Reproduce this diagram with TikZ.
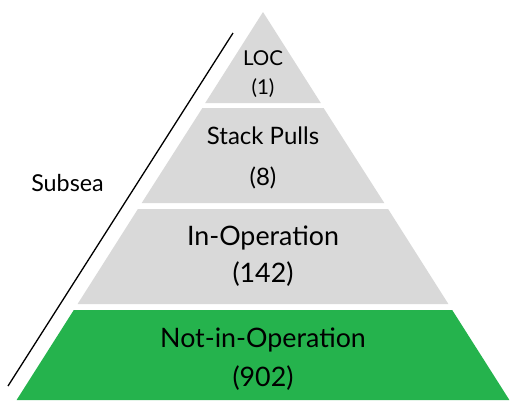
\documentclass[tikz,border=0pt]{standalone}
\usepackage{fontspec}
\setmainfont{Lato}
\definecolor{bandgrey}{RGB}{217,217,217}
\definecolor{bandgreen}{RGB}{37,179,77}
\tikzset{
  band/.style={fill=bandgrey},
  greenband/.style={fill=bandgreen},
  lbl/.style={inner sep=0pt, anchor=base, text=black},
}
\begin{document}
\begin{tikzpicture}[x=1pt,y=-1pt]
\useasboundingbox (0,0) rectangle (511,400);
% bands
\fill[band] (263,12) -- (320.8,103) -- (205.2,103) -- cycle;
\fill[band] (202.4,108) -- (323.6,108) -- (384.3,203) -- (141.7,203) -- cycle;
\fill[band] (137.9,209) -- (388.1,209) -- (448.4,304) -- (77.6,304) -- cycle;
\fill[greenband] (73.8,310) -- (452.2,310) -- (509.4,400) -- (16.6,400) -- cycle;
% side line
\coordinate (ltop) at (233,33);
\coordinate (lbot) at (8,386);
\draw[line width=1.3pt] (ltop) -- (lbot);
% labels
\node[lbl, font=\fontsize{20.5}{20.5}\selectfont] (loc) at (263,65) {LOC};
\node[lbl, font=\fontsize{20.5}{20.5}\selectfont] (locn) at (263,94) {(1)};
\node[lbl, font=\fontsize{24}{24}\selectfont] (stack) at (263,144) {Stack Pulls};
\node[lbl, font=\fontsize{24}{24}\selectfont] (stackn) at (263,185) {(8)};
\node[lbl, font=\fontsize{26.8}{26.8}\selectfont] (inop) at (263,245) {In-Operation};
\node[lbl, font=\fontsize{26.8}{26.8}\selectfont] (inopn) at (263,282) {(142)};
\node[lbl, font=\fontsize{26.8}{26.8}\selectfont] (notop) at (263,347) {Not-in-Operation};
\node[lbl, font=\fontsize{26.8}{26.8}\selectfont] (notopn) at (263,386) {(902)};
\node[lbl, font=\fontsize{23.3}{23.3}\selectfont] (subsea) at (67.5,191) {Subsea};
\end{tikzpicture}
\end{document}
